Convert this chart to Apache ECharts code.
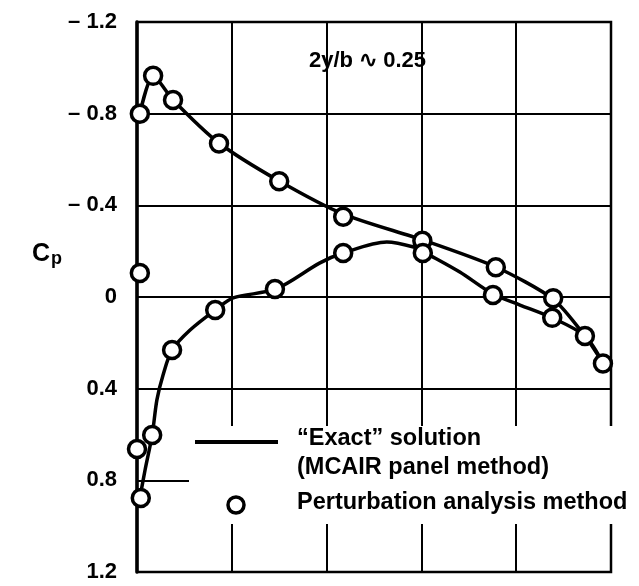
<!DOCTYPE html>
<html>
<head>
<meta charset="utf-8">
<title>Cp</title>
<script src="https://cdn.jsdelivr.net/npm/echarts@6/dist/echarts.min.js"></script>
<style>
    html, body { margin: 0; padding: 0; background: #fff; }
    #main { width: 639px; height: 586px; }
</style>
</head>
<body>
<div id="main"></div>
<script>
    // 数据 (x/c, Cp)
    var exactUpper = [
        [0.006, -0.80], [0.034, -0.965], [0.076, -0.86], [0.173, -0.672],
        [0.300, -0.506], [0.435, -0.362], [0.603, -0.249], [0.757, -0.131],
        [0.878, 0.009], [0.945, 0.170], [0.983, 0.288]
    ];
    var exactLower = [
        [0.006, 0.877], [0.017, 0.755], [0.032, 0.602], [0.042, 0.449],
        [0.055, 0.340], [0.074, 0.231], [0.112, 0.144], [0.165, 0.057],
        [0.203, 0.004], [0.293, -0.035], [0.386, -0.149], [0.435, -0.192],
        [0.527, -0.240], [0.591, -0.214], [0.605, -0.197], [0.681, -0.109],
        [0.751, -0.013], [0.808, 0.035], [0.876, 0.091], [0.945, 0.170],
        [0.983, 0.288]
    ];
    var perturbUpper = [
        [0.006, -0.80], [0.034, -0.965], [0.076, -0.86], [0.173, -0.67],
        [0.300, -0.505], [0.435, -0.35], [0.602, -0.245], [0.757, -0.13],
        [0.878, 0.005], [0.945, 0.17], [0.983, 0.29]
    ];
    var perturbLower = [
        [0.006, -0.105], [0.000, 0.663], [0.032, 0.602], [0.008, 0.877],
        [0.074, 0.231], [0.165, 0.057], [0.291, -0.035], [0.435, -0.192],
        [0.603, -0.192], [0.751, -0.009], [0.876, 0.091]
    ];
    var yTicks = [-1.2, -0.8, -0.4, 0, 0.4, 0.8, 1.2];

    var font = "'Liberation Sans', Arial, Helvetica, sans-serif";

    var myChart = echarts.init(document.getElementById('main'));

    var lineStyle = {color: '#000', width: 3.5};
    var circleStyle = {color: '#fff', borderColor: '#000', borderWidth: 3.5, opacity: 1};

    var option = {
        backgroundColor: '#fff',
        animation: false,
        grid: {
            left: 137,
            right: 28,
            top: 22,
            bottom: 14,
            show: true,
            borderColor: '#000',
            borderWidth: 2.5
        },
        xAxis: {
            type: 'value',
            min: 0,
            max: 1,
            interval: 0.2,
            axisLine: {show: false, onZero: false},
            axisTick: {show: false},
            axisLabel: {show: false},
            splitLine: {lineStyle: {color: '#000', width: 2}}
        },
        yAxis: {
            type: 'value',
            inverse: true,
            min: yTicks[0],
            max: yTicks[yTicks.length - 1],
            interval: 0.4,
            axisLine: {show: true, onZero: false, lineStyle: {color: '#000', width: 3.5}},
            axisTick: {show: false},
            axisLabel: {
                margin: 20,
                color: '#000',
                fontFamily: font,
                fontWeight: 'bold',
                fontSize: 22,
                formatter: function (v) {
                    if (Math.abs(v) < 1e-9) return '0';
                    return (v < 0 ? '\u2013 ' : '') + Math.abs(v).toFixed(1);
                }
            },
            splitLine: {lineStyle: {color: '#000', width: 2}}
        },
        graphic: [
            // 图例区域留白
            {
                type: 'rect', z: 10,
                shape: {x: 189, y: 426, width: 450, height: 98},
                style: {fill: '#fff'}
            },
            {
                type: 'line', z: 11,
                shape: {x1: 195, y1: 442, x2: 278, y2: 442},
                style: {stroke: '#000', lineWidth: 4}
            },
            {
                type: 'circle', z: 11,
                shape: {cx: 236, cy: 505, r: 8},
                style: {fill: '#fff', stroke: '#000', lineWidth: 3.5}
            },
            {
                type: 'text', z: 11, left: 297, top: 427,
                style: {text: '\u201cExact\u201d solution', font: 'bold 23.5px ' + font, fill: '#000'}
            },
            {
                type: 'text', z: 11, left: 297, top: 456,
                style: {text: '(MCAIR panel method)', font: 'bold 23.5px ' + font, fill: '#000'}
            },
            {
                type: 'text', z: 11, left: 297, top: 491,
                style: {text: 'Perturbation analysis method', font: 'bold 23.5px ' + font, fill: '#000'}
            },
            {
                type: 'text', z: 11, left: 309, top: 50,
                style: {text: '2y/b \u223f 0.25', font: 'bold 22px ' + font, fill: '#000'}
            },
            {
                type: 'text', z: 11, left: 32, top: 242,
                style: {
                    text: '{c|C}{p|p}',
                    rich: {
                        c: {font: 'bold 25px ' + font, fill: '#000'},
                        p: {font: 'bold 18px ' + font, fill: '#000', padding: [9, 0, 0, 1]}
                    }
                }
            }
        ],
        series: [
            {
                name: 'Exact upper',
                type: 'line',
                data: exactUpper,
                smooth: 0.25,
                showSymbol: false,
                lineStyle: lineStyle,
                z: 2
            },
            {
                name: 'Exact lower',
                type: 'line',
                data: exactLower,
                smooth: 0.3,
                showSymbol: false,
                lineStyle: lineStyle,
                z: 2
            },
            {
                name: 'Perturbation upper',
                type: 'scatter',
                data: perturbUpper,
                symbol: 'circle',
                symbolSize: 17,
                itemStyle: circleStyle,
                z: 3
            },
            {
                name: 'Perturbation lower',
                type: 'scatter',
                data: perturbLower,
                symbol: 'circle',
                symbolSize: 17,
                itemStyle: circleStyle,
                z: 3
            }
        ]
    };

    myChart.setOption(option);
</script>
</body>
</html>
